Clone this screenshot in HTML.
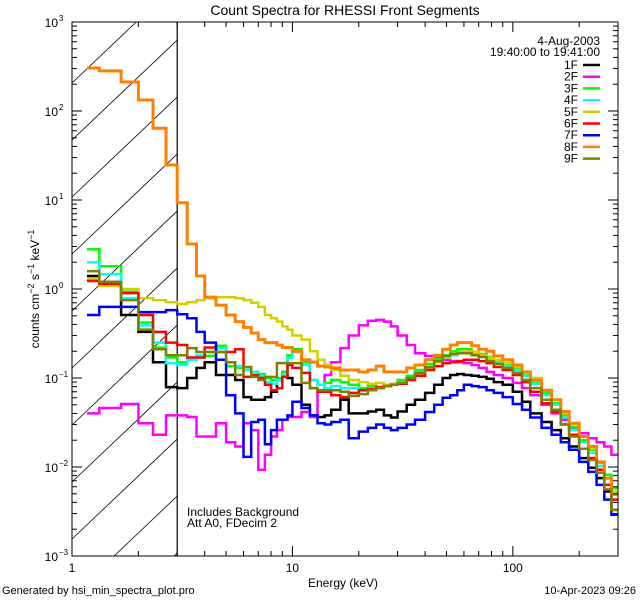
<!DOCTYPE html>
<html><head><meta charset="utf-8"><style>
html,body{margin:0;padding:0;background:#fff;width:640px;height:600px;overflow:hidden;}
svg{display:block;font-family:"Liberation Sans",sans-serif;overflow:hidden;}
</style></head><body>
<svg id="chart" width="640" height="600" viewBox="0 0 640 600" xmlns="http://www.w3.org/2000/svg">
<rect x="0" y="0" width="640" height="600" fill="#fff"/>
<text x="345" y="15" text-anchor="middle" font-size="14">Count Spectra for RHESSI Front Segments</text>
<text x="343" y="587" text-anchor="middle" font-size="12">Energy (keV)</text>
<text transform="translate(39,289) rotate(-90)" text-anchor="middle" font-size="12">counts cm<tspan dy="-5" font-size="9">−2</tspan><tspan dy="5"> s</tspan><tspan dy="-5" font-size="9">−1</tspan><tspan dy="5"> keV</tspan><tspan dy="-5" font-size="9">−1</tspan></text>
<text x="2" y="594" font-size="11">Generated by hsi_min_spectra_plot.pro</text>
<text x="636" y="594" text-anchor="end" font-size="11">10-Apr-2023 09:26</text>
<text x="187" y="516" font-size="12">Includes Background</text>
<text x="187" y="527" font-size="12">Att A0, FDecim 2</text>
<text x="600" y="45" text-anchor="end" font-size="12">4-Aug-2003</text>
<text x="600" y="56" text-anchor="end" font-size="12">19:40:00 to 19:41:00</text>
<g id="hatch"></g>
<line x1="177.2" y1="22" x2="177.2" y2="556" stroke="#000" stroke-width="1.2"/>
<g id="series"></g>
<g id="axes"></g>
<g id="legend"></g>
</svg>
<script>
const energyEdges = [1.17,1.33,1.67,2,2.33,2.67,3,3.33,3.67,4,4.5,5,5.5,6,6.5,7,7.5,8,8.5,9,9.5,10,11,12,13,14,15,16.5,18,20,22,24,26,28,30,33,36,40,44,48,52,56,60,65,70,76,82,90,100,110,120,135,150,165,180,200,220,240,260,280,300];
const seriesNames = ["1F","2F","3F","4F","5F","6F","7F","8F","9F"];
const seriesColors = ["#000000","#ff00ff","#00ff00","#00ffff","#d4d000","#ff0000","#0000ff","#ff8000","#808000"];
const s1F = [1.40,1.20,.51,.33,.15,.079,.077,.10,.13,.15,.108,.108,.095,.061,.057,.057,.061,.070,.095,.117,.10,.084,.050,.038,.0365,.038,.044,.057,.040,.040,.042,.044,.038,.036,.042,.050,.057,.068,.084,.10,.108,.111,.108,.106,.103,.098,.090,.084,.070,.054,.040,.032,.026,.021,.017,.0126,.0098,.0075,.0053,.0033];
const s2F = [.040,.046,.051,.031,.023,.038,.038,.0365,.022,.022,.031,.019,.017,.031,.026,.0093,.0137,.022,.026,.034,.0365,.0365,.0415,.0365,.073,.108,.15,.217,.30,.39,.44,.45,.43,.38,.30,.235,.19,.177,.168,.16,.155,.15,.147,.14,.13,.117,.108,.10,.088,.077,.064,.050,.040,.034,.0275,.024,.021,.019,.017,.0137];
const s3F = [2.8,1.8,.93,.42,.22,.17,.15,.16,.17,.177,.23,.136,.13,.123,.117,.111,.10,.095,.10,.117,.18,.21,.15,.095,.084,.088,.095,.090,.084,.077,.081,.079,.084,.086,.095,.106,.123,.144,.163,.18,.20,.21,.21,.196,.186,.172,.16,.144,.13,.108,.088,.068,.052,.038,.028,.020,.0156,.0112,.0082,.0058];
const s4F = [2.0,1.47,.79,.39,.25,.147,.14,.16,.18,.196,.217,.15,.136,.123,.117,.106,.090,.086,.095,.108,.168,.196,.14,.095,.084,.077,.081,.077,.077,.073,.077,.077,.081,.084,.090,.10,.117,.133,.15,.168,.18,.19,.196,.186,.177,.163,.15,.136,.123,.106,.086,.064,.050,.036,.026,.019,.0145,.0103,.0075,.0053];
const s5F = [1.30,1.08,1.0,.79,.75,.71,.68,.71,.75,.79,.81,.81,.79,.75,.70,.63,.51,.47,.43,.38,.35,.30,.27,.20,.16,.14,.123,.106,.095,.090,.086,.088,.084,.086,.090,.095,.108,.13,.15,.17,.186,.196,.20,.196,.18,.168,.16,.147,.133,.117,.10,.073,.057,.040,.030,.022,.016,.0114,.0075,.0053];
const s6F = [1.23,1.14,.90,.51,.33,.25,.235,.17,.17,.22,.196,.196,.21,.103,.108,.10,.084,.073,.077,.103,.14,.13,.114,.077,.070,.070,.064,.061,.068,.073,.075,.079,.081,.084,.086,.095,.106,.123,.136,.147,.15,.155,.16,.16,.155,.147,.133,.123,.108,.090,.070,.052,.042,.030,.023,.016,.0126,.0093,.0063,.0043];
const s7F = [.51,.63,.63,.55,.55,.58,.52,.47,.33,.25,.16,.064,.040,.013,.032,.034,.018,.026,.034,.034,.038,.054,.046,.038,.031,.030,.032,.034,.021,.025,.0275,.030,.0275,.026,.0275,.030,.034,.0415,.050,.060,.064,.073,.084,.081,.079,.073,.068,.061,.051,.044,.036,.0275,.023,.019,.0156,.0114,.0088,.0063,.0043,.0029];
const s8F = [304,282,212,133,64,24.7,9.3,3.2,1.4,.81,.66,.51,.43,.37,.32,.27,.25,.25,.235,.22,.22,.20,.16,.15,.136,.133,.13,.123,.123,.117,.123,.136,.117,.117,.117,.13,.14,.16,.18,.21,.235,.25,.25,.23,.21,.20,.177,.16,.14,.117,.095,.073,.057,.042,.031,.022,.017,.0114,.0075,.0049];
const s9F = [1.59,1.20,.75,.35,.21,.18,.18,.217,.196,.196,.196,.15,.108,.133,.103,.095,.103,.103,.147,.147,.147,.147,.088,.077,.073,.073,.073,.070,.063,.066,.073,.077,.081,.084,.088,.10,.114,.133,.155,.177,.186,.19,.19,.18,.172,.155,.144,.13,.114,.095,.077,.057,.044,.030,.022,.016,.012,.0086,.0056,.0033];
const seriesData = [s1F,s2F,s3F,s4F,s5F,s6F,s7F,s8F,s9F];
const xTickLabels = ["1","10","100"];
const yTickExps = [-3,-2,-1,0,1,2,3];

const NS="http://www.w3.org/2000/svg";
const L=72,R=618,T=22,B=556;
const xMin=1,xMax=300,yMin=-3,yMax=3;
function xs(e){return L+(Math.log10(e)-Math.log10(xMin))/(Math.log10(xMax)-Math.log10(xMin))*(R-L);}
function ys(v){return B-(Math.log10(v)-yMin)/(yMax-yMin)*(B-T);}
function mk(tag,attrs,parent){const el=document.createElementNS(NS,tag);for(const k in attrs)el.setAttribute(k,attrs[k]);parent.appendChild(el);return el;}

const defs=mk('defs',{},document.getElementById('chart'));
const cp=mk('clipPath',{id:'plotclip'},defs);
mk('rect',{x:L,y:T,width:R-L,height:B-T},cp);

// hatch lines, clipped analytically to [L, x3] x [T, B]
const hg=document.getElementById('hatch');
const x3=xs(3), slope=0.95;
for(let k=0;k<11;k++){
  const y0=83+57*k;
  let xa=L, ya=y0;
  if(ya>B){xa=L+(ya-B)/slope; ya=B;}
  let xb=x3, yb=y0-slope*(x3-L);
  if(yb<T){xb=L+(y0-T)/slope; yb=T;}
  if(xa>=xb) continue;
  const ln=mk('line',{x1:xa.toFixed(1),y1:ya.toFixed(1),x2:xb.toFixed(1),y2:yb.toFixed(1),stroke:'#000','stroke-width':0.8},hg);
  
  
}

const sg=document.getElementById('series');
sg.setAttribute('clip-path','url(#plotclip)');
seriesData.forEach((arr,i)=>{
  let d='';
  for(let j=0;j<arr.length;j++){
    const x0=xs(energyEdges[j]),x1=xs(energyEdges[j+1]),y=ys(arr[j]);
    d+=(j===0?'M':'L')+x0.toFixed(1)+','+y.toFixed(1)+'L'+x1.toFixed(1)+','+y.toFixed(1);
  }
  const p=mk('path',{d:d,fill:'none',stroke:seriesColors[i],'stroke-width':i===7?3:2.5,'stroke-linejoin':'miter'},sg);
  
  
});

const ag=document.getElementById('axes');
const fr=mk('rect',{x:L,y:T,width:R-L,height:B-T,fill:'none',stroke:'#000','stroke-width':1},ag);


for(let dec=0;dec<3;dec++){
  for(let m=1;m<10;m++){
    const e=m*Math.pow(10,dec); if(e>xMax) break;
    const x=xs(e), len=m===1?10:5;
    const t1=mk('line',{x1:x,y1:B,x2:x,y2:B-len,stroke:'#000'},ag);
    
    
    const t2=mk('line',{x1:x,y1:T,x2:x,y2:T+len,stroke:'#000'},ag);
    
    
  }
}
xTickLabels.forEach(s=>{
  const t=mk('text',{x:xs(parseFloat(s)),y:572,'text-anchor':'middle','font-size':12},ag);
  t.textContent=s;
  
  
});
for(let ex=yMin;ex<=yMax;ex++){
  for(let m=1;m<10;m++){
    if(ex===yMax&&m>1) break;
    const y=ys(m*Math.pow(10,ex)), len=m===1?10:5;
    const t1=mk('line',{x1:L,y1:y,x2:L+len,y2:y,stroke:'#000'},ag);
    
    
    const t2=mk('line',{x1:R,y1:y,x2:R-len,y2:y,stroke:'#000'},ag);
    
    
  }
}
yTickExps.forEach(ex=>{
  const y=ys(Math.pow(10,ex));
  const t=mk('text',{x:58,y:y+5,'text-anchor':'end','font-size':12},ag);
  t.textContent='10';
  
  
  const s=mk('text',{x:59,y:y-1,'font-size':8},ag);
  s.textContent=ex<0?'−'+(-ex):String(ex);
  
  
});

const lg=document.getElementById('legend');
seriesNames.forEach((n,i)=>{
  const y=65+11.7*i;
  const t=mk('text',{x:578,y:y+4,'text-anchor':'end','font-size':12},lg);
  t.textContent=n;
  
  
  const l=mk('line',{x1:583,y1:y,x2:600,y2:y,stroke:seriesColors[i],'stroke-width':2.5},lg);
  
  
});
</script>
</body></html>
